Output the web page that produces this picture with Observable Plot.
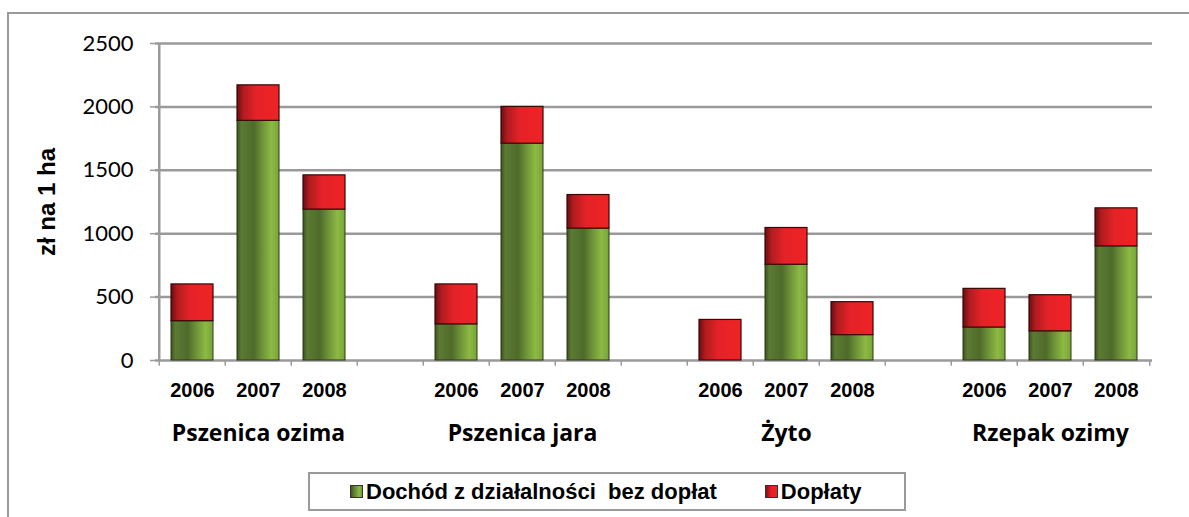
<!DOCTYPE html>
<html><head><meta charset="utf-8">
<script src="https://cdn.jsdelivr.net/npm/d3@7"></script>
<script src="https://cdn.jsdelivr.net/npm/@observablehq/plot@0.6"></script>
<style>
body{margin:0;background:#fff;width:1189px;height:517px;overflow:hidden;position:relative;font-family:"Liberation Sans",Arial,sans-serif}
#frame{position:absolute;left:7px;top:12px;width:1300px;height:600px;border:2px solid #9a9a9a;box-sizing:border-box}
#chart{position:absolute;left:0;top:0}
#legend{position:absolute;left:308px;top:472px;width:598px;height:39px;border:2px solid #9a9a9a;box-sizing:border-box;background:#fff;display:flex;align-items:center;font-weight:bold;font-size:22px;color:#000;white-space:pre}
.sw{display:inline-block;width:13px;height:13px;border:1px solid #333;margin-right:3px;box-sizing:border-box}
</style></head>
<body>
<div id="frame"></div>
<div id="chart"></div>
<div id="legend"><span class="sw" style="margin-left:40px;background:linear-gradient(90deg,#3e5520,#5b7a32 25%,#8cba42 75%,#6f9a36)"></span><span>Dochód z działalności  bez dopłat</span><span class="sw" style="margin-left:48px;background:linear-gradient(90deg,#8a1014,#e42227 50%,#ef2325)"></span><span>Dopłaty</span></div>
<script>
const crops = ["Pszenica ozima", "Pszenica jara", "Żyto", "Rzepak ozimy"];
const years = ["2006", "2007", "2008"];
const dochod = [310, 1890, 1190, 285, 1710, 1040, 0, 755, 200, 260, 230, 900];
const doplaty = [290, 280, 270, 315, 290, 265, 320, 290, 260, 305, 285, 300];
const yTicks = [0, 500, 1000, 1500, 2000, 2500];
const yLabel = "zł na 1 ha";

// build band keys (with an empty gap slot between crop groups)
const keys = [];
const rows = [];
crops.forEach((c, i) => {
  years.forEach((y, j) => {
    const k = c + "|" + y;
    keys.push(k);
    rows.push({key: k, crop: c, year: y, dochod: dochod[i * 3 + j], doplaty: doplaty[i * 3 + j]});
  });
  if (i < crops.length - 1) keys.push("gap" + i);
});

const W = 1189, H = 470, ML = 155, MR = 37, MT = 43, MB = 110;
const step = (W - ML - MR) / keys.length;
const grey = "#9a9a9a";

const svg = Plot.plot({
  width: W, height: H,
  marginLeft: ML, marginRight: MR, marginTop: MT, marginBottom: MB,
  style: {fontFamily: "Lato, sans-serif", color: "#000", background: "transparent"},
  x: {type: "band", domain: keys, paddingInner: 0.37, paddingOuter: 0.185, axis: null},
  y: {domain: [0, 2500], axis: null},
  marks: [
    Plot.ruleY(yTicks, {stroke: grey, strokeWidth: 2.5}),
    Plot.ruleX([keys[0]], {dx: -step / 2, y1: 0, y2: 2500, stroke: grey, strokeWidth: 2.5}),
    Plot.ruleX(keys, {dx: -step / 2, y1: 0, y2: -45, stroke: grey, strokeWidth: 1.5}),
    Plot.ruleX([keys[keys.length - 1]], {dx: step / 2, y1: 0, y2: -45, stroke: grey, strokeWidth: 1.5}),
    Plot.axisY(yTicks, {tickSize: 5, tickPadding: 17, fontSize: 22, stroke: grey, strokeWidth: 1.5, label: null, tickFormat: d => String(d)}),
    Plot.barY(rows, {x: "key", y1: 0, y2: "dochod", fill: "url(#gGreen)", stroke: "#2c3a18", strokeWidth: 1}),
    Plot.barY(rows, {x: "key", y1: "dochod", y2: d => d.dochod + d.doplaty, fill: "url(#gRed)", stroke: "#3a0808", strokeWidth: 1.2}),
    Plot.axisX(keys, {tickSize: 0, tickPadding: 22, fontSize: 20, fontWeight: "bold", fontFamily: "Liberation Sans, Arial, sans-serif", label: null,
      tickFormat: k => k.startsWith("gap") ? "" : k.split("|")[1]}),
    Plot.text(crops, {x: d => d + "|2007", frameAnchor: "bottom", dy: 80, text: d => d, fontSize: 23, fontWeight: "bold", fontFamily: "Open Sans, sans-serif", fill: "#000"}),
    Plot.text([yLabel], {frameAnchor: "left", textAnchor: "middle", dx: -108, rotate: -90, text: d => d, fontSize: 24, fontWeight: "bold", fontFamily: "Liberation Sans, Arial, sans-serif", fill: "#000"})
  ]
});

d3.select(svg).insert("defs", ":first-child").html(`
  <linearGradient id="gGreen" x1="0" x2="1" y1="0" y2="0">
    <stop offset="0" stop-color="#3b521f"/>
    <stop offset="0.1" stop-color="#5b7a32"/>
    <stop offset="0.4" stop-color="#4f6b2b"/>
    <stop offset="0.6" stop-color="#6e9238"/>
    <stop offset="0.82" stop-color="#8cba42"/>
    <stop offset="1" stop-color="#78a33a"/>
  </linearGradient>
  <linearGradient id="gRed" x1="0" x2="1" y1="0" y2="0">
    <stop offset="0" stop-color="#6a0d10"/>
    <stop offset="0.15" stop-color="#b01c20"/>
    <stop offset="0.45" stop-color="#e42227"/>
    <stop offset="1" stop-color="#ef2325"/>
  </linearGradient>`);

document.getElementById("chart").appendChild(svg);
</script>
</body></html>
